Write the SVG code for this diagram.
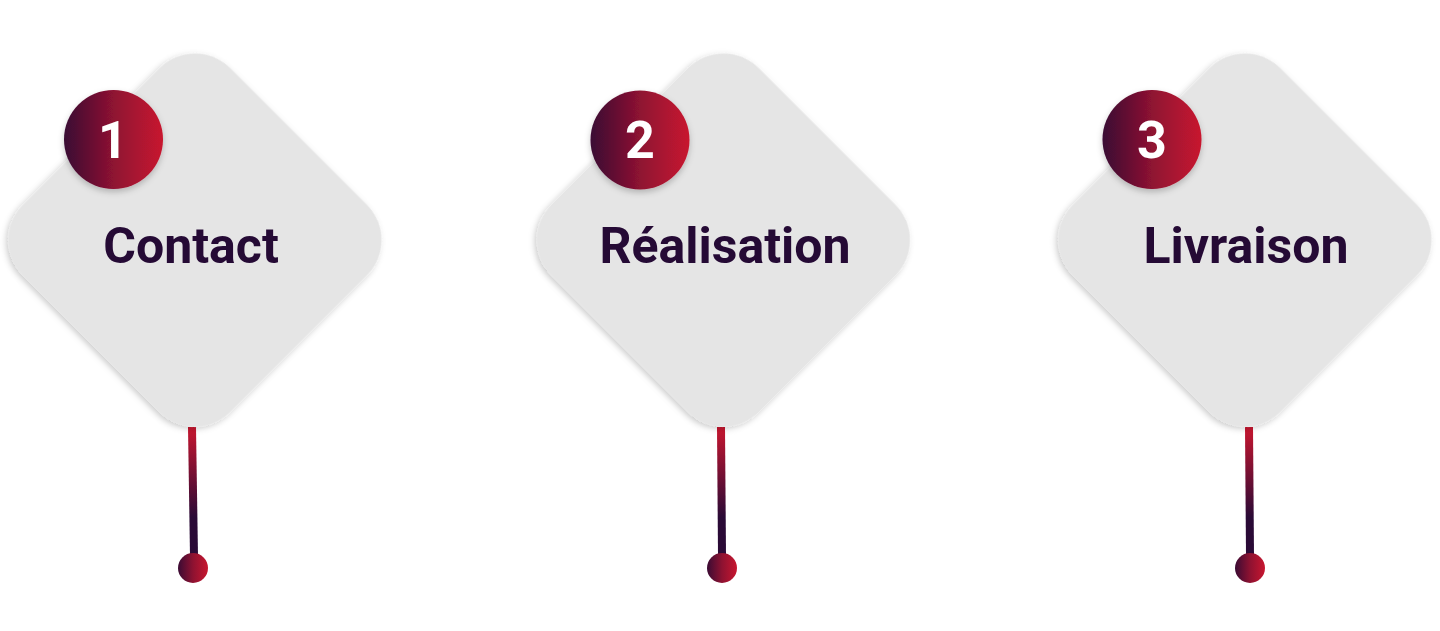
<svg xmlns="http://www.w3.org/2000/svg" width="1440" height="631" viewBox="0 0 1440 631">
<defs>
<linearGradient id="gH" x1="0" y1="0" x2="1" y2="0">
<stop offset="0" stop-color="#3a0b34"/>
<stop offset="0.5" stop-color="#8e1231"/>
<stop offset="1" stop-color="#c8162f"/>
</linearGradient>
<linearGradient id="gV" x1="0" y1="0" x2="0" y2="1">
<stop offset="0" stop-color="#c8162f"/>
<stop offset="0.7" stop-color="#2a0a36"/>
<stop offset="1" stop-color="#2a0a36"/>
</linearGradient>
<filter id="sh" x="-20%" y="-20%" width="140%" height="140%">
<feDropShadow dx="0" dy="3" stdDeviation="3" flood-color="#000" flood-opacity="0.22"/>
</filter>
</defs>
<style>
.dia{fill:#e5e5e5;filter:url(#sh)}
.num{fill:url(#gH);filter:url(#sh)}
.dot{fill:url(#gH)}
.stem{fill:url(#gV)}
.lbl{font-family:Roboto,"Liberation Sans",sans-serif;font-weight:700;font-size:50px;fill:#250a35;text-anchor:middle}
.n{font-family:Roboto,"Liberation Sans",sans-serif;font-weight:700;font-size:52px;fill:#ffffff;text-anchor:middle}
</style>
<g id="connectors">
<polygon class="stem" points="188,427 196,427 198,556 190,556"/>
<polygon class="stem" points="717,427 725,427 726,556 718,556"/>
<polygon class="stem" points="1245,427 1253,427 1254,556 1246,556"/>
</g>
<g id="step1">
<rect class="dia" x="48.5" y="93.5" width="293" height="293" rx="50" transform="rotate(45 195 240)"/>
<circle class="num" cx="113.5" cy="139.5" r="49.5"/>
<text class="n" x="113" y="158">1</text>
<text class="lbl" x="191" y="263">Contact</text>
<circle class="dot" cx="193" cy="568" r="15"/>
</g>
<g id="step2">
<rect class="dia" x="577" y="93.5" width="293" height="293" rx="50" transform="rotate(45 723.5 240)"/>
<circle class="num" cx="640" cy="140" r="49.5"/>
<text class="n" x="640" y="158">2</text>
<text class="lbl" x="725" y="263">Réalisation</text>
<circle class="dot" cx="722" cy="568" r="15"/>
</g>
<g id="step3">
<rect class="dia" x="1098.5" y="93.5" width="293" height="293" rx="50" transform="rotate(45 1245 240)"/>
<circle class="num" cx="1152" cy="139.5" r="49.5"/>
<text class="n" x="1152" y="158">3</text>
<text class="lbl" x="1246" y="263">Livraison</text>
<circle class="dot" cx="1250" cy="568" r="15"/>
</g>
</svg>
